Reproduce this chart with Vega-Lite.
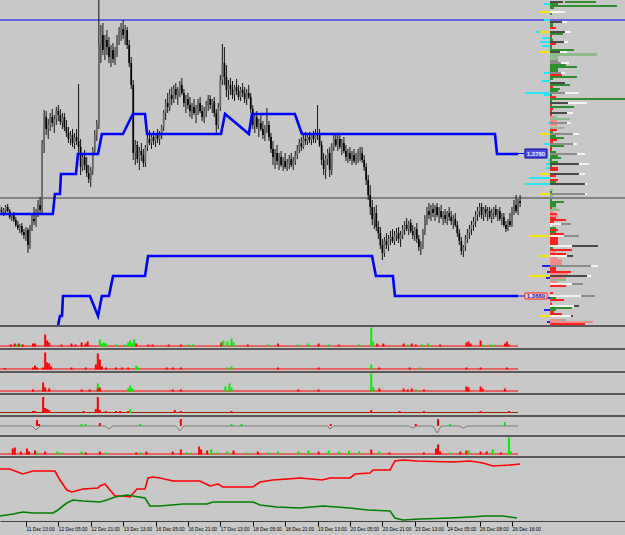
{
"$schema":"https://vega.github.io/schema/vega-lite/v6.json",
"background":"#c8c8c8","padding":0,"width":625,"height":535,"autosize":{"type":"none"},
"config":{"view":{"stroke":null}},
"datasets":{
"hl":[{"p":305,"k":"b"},{"p":127,"k":"k"}],
"candles":[
{"t":3,"o":116,"hi":120,"lo":112,"c":114},{"t":4,"o":114,"hi":118,"lo":110,"c":113},{"t":5,"o":113,"hi":117,"lo":109,"c":115},{"t":6,"o":115,"hi":120,"lo":112,"c":118},{"t":7,"o":118,"hi":121,"lo":113,"c":114},{"t":8,"o":114,"hi":116,"lo":106,"c":108},{"t":9,"o":108,"hi":112,"lo":104,"c":110},{"t":10,"o":110,"hi":113,"lo":103,"c":105},{"t":11,"o":105,"hi":108,"lo":98,"c":100},{"t":12,"o":100,"hi":104,"lo":95,"c":97},{"t":13,"o":97,"hi":101,"lo":92,"c":99},{"t":14,"o":99,"hi":102,"lo":90,"c":93},{"t":15,"o":93,"hi":96,"lo":86,"c":90},{"t":16,"o":90,"hi":98,"lo":84,"c":95},{"t":17,"o":95,"hi":97,"lo":72,"c":80},{"t":18,"o":80,"hi":100,"lo":76,"c":97},{"t":19,"o":97,"hi":110,"lo":94,"c":106},{"t":20,"o":106,"hi":118,"lo":100,"c":104},{"t":21,"o":104,"hi":116,"lo":98,"c":112},{"t":22,"o":112,"hi":125,"lo":108,"c":120},{"t":23,"o":120,"hi":128,"lo":112,"c":115},{"t":24,"o":115,"hi":185,"lo":110,"c":180},{"t":25,"o":180,"hi":215,"lo":172,"c":208},{"t":26,"o":208,"hi":214,"lo":190,"c":196},{"t":27,"o":196,"hi":206,"lo":186,"c":200},{"t":28,"o":200,"hi":212,"lo":194,"c":208},{"t":29,"o":208,"hi":216,"lo":198,"c":202},{"t":30,"o":202,"hi":210,"lo":192,"c":206},{"t":31,"o":206,"hi":218,"lo":200,"c":214},{"t":32,"o":214,"hi":220,"lo":204,"c":210},{"t":33,"o":210,"hi":216,"lo":200,"c":203},{"t":34,"o":203,"hi":212,"lo":196,"c":208},{"t":35,"o":208,"hi":212,"lo":194,"c":198},{"t":36,"o":198,"hi":205,"lo":188,"c":192},{"t":37,"o":192,"hi":198,"lo":182,"c":186},{"t":38,"o":186,"hi":194,"lo":180,"c":190},{"t":39,"o":190,"hi":196,"lo":178,"c":182},{"t":40,"o":182,"hi":192,"lo":176,"c":188},{"t":41,"o":188,"hi":196,"lo":180,"c":184},{"t":42,"o":184,"hi":241,"lo":170,"c":178},{"t":43,"o":178,"hi":186,"lo":150,"c":158},{"t":44,"o":158,"hi":172,"lo":154,"c":168},{"t":45,"o":168,"hi":175,"lo":155,"c":160},{"t":46,"o":160,"hi":168,"lo":148,"c":152},{"t":47,"o":152,"hi":160,"lo":142,"c":146},{"t":48,"o":146,"hi":158,"lo":138,"c":155},{"t":49,"o":155,"hi":178,"lo":150,"c":175},{"t":50,"o":175,"hi":195,"lo":170,"c":190},{"t":51,"o":190,"hi":205,"lo":184,"c":200},{"t":52,"o":200,"hi":325,"lo":196,"c":280},{"t":53,"o":280,"hi":300,"lo":262,"c":290},{"t":54,"o":290,"hi":302,"lo":270,"c":275},{"t":55,"o":275,"hi":290,"lo":265,"c":285},{"t":56,"o":285,"hi":295,"lo":270,"c":278},{"t":57,"o":278,"hi":288,"lo":262,"c":268},{"t":58,"o":268,"hi":280,"lo":258,"c":275},{"t":59,"o":275,"hi":282,"lo":262,"c":266},{"t":60,"o":266,"hi":278,"lo":260,"c":272},{"t":61,"o":272,"hi":290,"lo":268,"c":286},{"t":62,"o":286,"hi":298,"lo":280,"c":292},{"t":63,"o":292,"hi":302,"lo":284,"c":296},{"t":64,"o":296,"hi":305,"lo":286,"c":290},{"t":65,"o":290,"hi":300,"lo":280,"c":295},{"t":66,"o":295,"hi":298,"lo":276,"c":280},{"t":67,"o":280,"hi":285,"lo":258,"c":262},{"t":68,"o":262,"hi":268,"lo":236,"c":240},{"t":69,"o":240,"hi":245,"lo":165,"c":172},{"t":70,"o":172,"hi":185,"lo":160,"c":180},{"t":71,"o":180,"hi":184,"lo":162,"c":166},{"t":72,"o":166,"hi":178,"lo":155,"c":174},{"t":73,"o":174,"hi":182,"lo":164,"c":170},{"t":74,"o":170,"hi":176,"lo":158,"c":162},{"t":75,"o":162,"hi":180,"lo":158,"c":178},{"t":76,"o":178,"hi":190,"lo":174,"c":186},{"t":77,"o":186,"hi":195,"lo":180,"c":182},{"t":78,"o":182,"hi":190,"lo":176,"c":188},{"t":79,"o":188,"hi":194,"lo":180,"c":184},{"t":80,"o":184,"hi":192,"lo":178,"c":190},{"t":81,"o":190,"hi":196,"lo":182,"c":186},{"t":82,"o":186,"hi":194,"lo":180,"c":192},{"t":83,"o":192,"hi":200,"lo":186,"c":198},{"t":84,"o":198,"hi":215,"lo":194,"c":212},{"t":85,"o":212,"hi":226,"lo":205,"c":222},{"t":86,"o":222,"hi":232,"lo":212,"c":218},{"t":87,"o":218,"hi":236,"lo":214,"c":230},{"t":88,"o":230,"hi":238,"lo":220,"c":226},{"t":89,"o":226,"hi":240,"lo":222,"c":236},{"t":90,"o":236,"hi":242,"lo":226,"c":230},{"t":91,"o":230,"hi":238,"lo":220,"c":234},{"t":92,"o":234,"hi":244,"lo":228,"c":240},{"t":93,"o":240,"hi":247,"lo":230,"c":232},{"t":94,"o":232,"hi":236,"lo":218,"c":222},{"t":95,"o":222,"hi":230,"lo":212,"c":226},{"t":96,"o":226,"hi":232,"lo":216,"c":220},{"t":97,"o":220,"hi":228,"lo":208,"c":214},{"t":98,"o":214,"hi":222,"lo":206,"c":218},{"t":99,"o":218,"hi":226,"lo":210,"c":212},{"t":100,"o":212,"hi":220,"lo":202,"c":216},{"t":101,"o":216,"hi":226,"lo":210,"c":222},{"t":102,"o":222,"hi":228,"lo":212,"c":214},{"t":103,"o":214,"hi":220,"lo":204,"c":208},{"t":104,"o":208,"hi":218,"lo":202,"c":214},{"t":105,"o":214,"hi":224,"lo":208,"c":220},{"t":106,"o":220,"hi":230,"lo":214,"c":226},{"t":107,"o":226,"hi":230,"lo":216,"c":220},{"t":108,"o":220,"hi":226,"lo":212,"c":224},{"t":109,"o":224,"hi":228,"lo":208,"c":212},{"t":110,"o":212,"hi":216,"lo":192,"c":200},{"t":111,"o":200,"hi":222,"lo":196,"c":218},{"t":112,"o":218,"hi":250,"lo":214,"c":245},{"t":113,"o":245,"hi":281,"lo":240,"c":262},{"t":114,"o":262,"hi":278,"lo":240,"c":248},{"t":115,"o":248,"hi":260,"lo":228,"c":235},{"t":116,"o":235,"hi":245,"lo":225,"c":240},{"t":117,"o":240,"hi":247,"lo":230,"c":236},{"t":118,"o":236,"hi":244,"lo":226,"c":230},{"t":119,"o":230,"hi":240,"lo":224,"c":238},{"t":120,"o":238,"hi":246,"lo":230,"c":234},{"t":121,"o":234,"hi":240,"lo":225,"c":228},{"t":122,"o":228,"hi":238,"lo":224,"c":235},{"t":123,"o":235,"hi":242,"lo":228,"c":232},{"t":124,"o":232,"hi":238,"lo":222,"c":226},{"t":125,"o":226,"hi":236,"lo":220,"c":232},{"t":126,"o":232,"hi":240,"lo":226,"c":228},{"t":127,"o":228,"hi":232,"lo":212,"c":216},{"t":128,"o":216,"hi":220,"lo":196,"c":200},{"t":129,"o":200,"hi":212,"lo":192,"c":208},{"t":130,"o":208,"hi":214,"lo":196,"c":198},{"t":131,"o":198,"hi":206,"lo":188,"c":202},{"t":132,"o":202,"hi":210,"lo":194,"c":196},{"t":133,"o":196,"hi":204,"lo":186,"c":190},{"t":134,"o":190,"hi":200,"lo":184,"c":196},{"t":135,"o":196,"hi":217,"lo":192,"c":200},{"t":136,"o":200,"hi":204,"lo":184,"c":188},{"t":137,"o":188,"hi":192,"lo":172,"c":176},{"t":138,"o":176,"hi":184,"lo":160,"c":168},{"t":139,"o":168,"hi":176,"lo":156,"c":172},{"t":140,"o":172,"hi":180,"lo":160,"c":164},{"t":141,"o":164,"hi":172,"lo":155,"c":168},{"t":142,"o":168,"hi":174,"lo":158,"c":160},{"t":143,"o":160,"hi":168,"lo":154,"c":164},{"t":144,"o":164,"hi":172,"lo":156,"c":158},{"t":145,"o":158,"hi":166,"lo":154,"c":162},{"t":146,"o":162,"hi":170,"lo":156,"c":166},{"t":147,"o":166,"hi":172,"lo":158,"c":160},{"t":148,"o":160,"hi":168,"lo":155,"c":164},{"t":149,"o":164,"hi":174,"lo":160,"c":170},{"t":150,"o":170,"hi":180,"lo":166,"c":176},{"t":151,"o":176,"hi":186,"lo":172,"c":182},{"t":152,"o":182,"hi":188,"lo":174,"c":178},{"t":153,"o":178,"hi":190,"lo":176,"c":186},{"t":154,"o":186,"hi":193,"lo":180,"c":184},{"t":155,"o":184,"hi":192,"lo":180,"c":188},{"t":156,"o":188,"hi":193,"lo":182,"c":185},{"t":157,"o":185,"hi":192,"lo":180,"c":190},{"t":158,"o":190,"hi":194,"lo":182,"c":186},{"t":159,"o":186,"hi":196,"lo":182,"c":192},{"t":160,"o":192,"hi":220,"lo":185,"c":190},{"t":161,"o":190,"hi":196,"lo":178,"c":180},{"t":162,"o":180,"hi":184,"lo":160,"c":165},{"t":163,"o":165,"hi":172,"lo":150,"c":156},{"t":164,"o":156,"hi":170,"lo":146,"c":166},{"t":165,"o":166,"hi":176,"lo":160,"c":172},{"t":166,"o":172,"hi":178,"lo":148,"c":155},{"t":167,"o":155,"hi":182,"lo":150,"c":178},{"t":168,"o":178,"hi":192,"lo":174,"c":186},{"t":169,"o":186,"hi":192,"lo":178,"c":180},{"t":170,"o":180,"hi":190,"lo":174,"c":186},{"t":171,"o":186,"hi":192,"lo":176,"c":178},{"t":172,"o":178,"hi":186,"lo":170,"c":182},{"t":173,"o":182,"hi":188,"lo":172,"c":174},{"t":174,"o":174,"hi":180,"lo":164,"c":168},{"t":175,"o":168,"hi":176,"lo":162,"c":172},{"t":176,"o":172,"hi":178,"lo":164,"c":166},{"t":177,"o":166,"hi":174,"lo":160,"c":170},{"t":178,"o":170,"hi":176,"lo":162,"c":164},{"t":179,"o":164,"hi":172,"lo":160,"c":168},{"t":180,"o":168,"hi":176,"lo":162,"c":170},{"t":181,"o":170,"hi":178,"lo":164,"c":172},{"t":182,"o":172,"hi":178,"lo":162,"c":165},{"t":183,"o":165,"hi":170,"lo":154,"c":158},{"t":184,"o":158,"hi":162,"lo":140,"c":145},{"t":185,"o":145,"hi":150,"lo":125,"c":130},{"t":186,"o":130,"hi":140,"lo":110,"c":118},{"t":187,"o":118,"hi":125,"lo":100,"c":106},{"t":188,"o":106,"hi":118,"lo":96,"c":112},{"t":189,"o":112,"hi":120,"lo":94,"c":98},{"t":190,"o":98,"hi":104,"lo":86,"c":92},{"t":191,"o":92,"hi":98,"lo":76,"c":80},{"t":192,"o":80,"hi":86,"lo":65,"c":72},{"t":193,"o":72,"hi":88,"lo":68,"c":84},{"t":194,"o":84,"hi":92,"lo":76,"c":80},{"t":195,"o":80,"hi":90,"lo":74,"c":86},{"t":196,"o":86,"hi":94,"lo":80,"c":88},{"t":197,"o":88,"hi":96,"lo":82,"c":84},{"t":198,"o":84,"hi":94,"lo":80,"c":90},{"t":199,"o":90,"hi":97,"lo":84,"c":92},{"t":200,"o":92,"hi":98,"lo":82,"c":86},{"t":201,"o":86,"hi":94,"lo":78,"c":90},{"t":202,"o":90,"hi":100,"lo":86,"c":96},{"t":203,"o":96,"hi":104,"lo":90,"c":100},{"t":204,"o":100,"hi":107,"lo":94,"c":96},{"t":205,"o":96,"hi":104,"lo":90,"c":102},{"t":206,"o":102,"hi":106,"lo":92,"c":94},{"t":207,"o":94,"hi":100,"lo":86,"c":90},{"t":208,"o":90,"hi":98,"lo":84,"c":96},{"t":209,"o":96,"hi":102,"lo":82,"c":86},{"t":210,"o":86,"hi":90,"lo":74,"c":78},{"t":211,"o":78,"hi":84,"lo":70,"c":80},{"t":212,"o":80,"hi":96,"lo":76,"c":94},{"t":213,"o":94,"hi":110,"lo":90,"c":106},{"t":214,"o":106,"hi":118,"lo":100,"c":114},{"t":215,"o":114,"hi":122,"lo":106,"c":110},{"t":216,"o":110,"hi":120,"lo":104,"c":116},{"t":217,"o":116,"hi":122,"lo":108,"c":112},{"t":218,"o":112,"hi":120,"lo":104,"c":118},{"t":219,"o":118,"hi":122,"lo":108,"c":110},{"t":220,"o":110,"hi":118,"lo":102,"c":114},{"t":221,"o":114,"hi":120,"lo":106,"c":108},{"t":222,"o":108,"hi":114,"lo":100,"c":110},{"t":223,"o":110,"hi":116,"lo":102,"c":106},{"t":224,"o":106,"hi":114,"lo":100,"c":112},{"t":225,"o":112,"hi":118,"lo":104,"c":108},{"t":226,"o":108,"hi":114,"lo":100,"c":104},{"t":227,"o":104,"hi":110,"lo":96,"c":106},{"t":228,"o":106,"hi":112,"lo":98,"c":100},{"t":229,"o":100,"hi":104,"lo":88,"c":92},{"t":230,"o":92,"hi":96,"lo":80,"c":84},{"t":231,"o":84,"hi":88,"lo":70,"c":74},{"t":232,"o":74,"hi":80,"lo":68,"c":78},{"t":233,"o":78,"hi":90,"lo":74,"c":86},{"t":234,"o":86,"hi":96,"lo":82,"c":92},{"t":235,"o":92,"hi":100,"lo":86,"c":96},{"t":236,"o":96,"hi":104,"lo":90,"c":100},{"t":237,"o":100,"hi":108,"lo":94,"c":104},{"t":238,"o":104,"hi":114,"lo":98,"c":110},{"t":239,"o":110,"hi":118,"lo":104,"c":114},{"t":240,"o":114,"hi":122,"lo":108,"c":118},{"t":241,"o":118,"hi":122,"lo":106,"c":110},{"t":242,"o":110,"hi":118,"lo":104,"c":116},{"t":243,"o":116,"hi":120,"lo":108,"c":112},{"t":244,"o":112,"hi":118,"lo":104,"c":114},{"t":245,"o":114,"hi":118,"lo":106,"c":108},{"t":246,"o":108,"hi":116,"lo":102,"c":112},{"t":247,"o":112,"hi":118,"lo":106,"c":116},{"t":248,"o":116,"hi":120,"lo":108,"c":110},{"t":249,"o":110,"hi":116,"lo":104,"c":114},{"t":250,"o":114,"hi":118,"lo":104,"c":106},{"t":251,"o":106,"hi":112,"lo":100,"c":108},{"t":252,"o":108,"hi":112,"lo":98,"c":100},{"t":253,"o":100,"hi":104,"lo":93,"c":96},{"t":254,"o":96,"hi":106,"lo":94,"c":104},{"t":255,"o":104,"hi":112,"lo":98,"c":100},{"t":256,"o":100,"hi":118,"lo":98,"c":116},{"t":257,"o":116,"hi":125,"lo":110,"c":120},{"t":258,"o":120,"hi":130,"lo":112,"c":114},{"t":259,"o":114,"hi":126,"lo":110,"c":124},{"t":260,"o":124,"hi":130,"lo":118,"c":122}
],
"blue":[
{"s":"u","i":0,"t":3,"p":111},{"s":"u","i":1,"t":29.3,"p":111},{"s":"u","i":2,"t":30.3,"p":131},{"s":"u","i":3,"t":32.8,"p":131},{"s":"u","i":4,"t":33.3,"p":151},{"s":"u","i":5,"t":40.7,"p":151},{"s":"u","i":6,"t":41.7,"p":171},{"s":"u","i":7,"t":51.6,"p":171},{"s":"u","i":8,"t":53.5,"p":191},{"s":"u","i":9,"t":63.9,"p":191},{"s":"u","i":10,"t":68.8,"p":211},{"s":"u","i":11,"t":74.8,"p":211},{"s":"u","i":12,"t":75.8,"p":191},{"s":"u","i":13,"t":112.3,"p":191},{"s":"u","i":14,"t":114.3,"p":211},{"s":"u","i":15,"t":126.1,"p":191},{"s":"u","i":16,"t":127.6,"p":211},{"s":"u","i":17,"t":148.8,"p":211},{"s":"u","i":18,"t":152.3,"p":191},{"s":"u","i":19,"t":247.6,"p":191},{"s":"u","i":20,"t":248.6,"p":171},{"s":"u","i":21,"t":259,"p":171},
{"s":"l","i":0,"t":31.8,"p":-1},{"s":"l","i":1,"t":32.8,"p":9},{"s":"l","i":2,"t":33.8,"p":9},{"s":"l","i":3,"t":34.3,"p":29},{"s":"l","i":4,"t":47.6,"p":29},{"s":"l","i":5,"t":51.6,"p":9},{"s":"l","i":6,"t":53.5,"p":29},{"s":"l","i":7,"t":57,"p":29},{"s":"l","i":8,"t":59,"p":49},{"s":"l","i":9,"t":74.8,"p":49},{"s":"l","i":10,"t":76.3,"p":69},{"s":"l","i":11,"t":186.9,"p":69},{"s":"l","i":12,"t":188.8,"p":49},{"s":"l","i":13,"t":197.2,"p":49},{"s":"l","i":14,"t":198.2,"p":29},{"s":"l","i":15,"t":259,"p":29}
],
"boxes":[
{"k":"u","lx":259,"x0":262.4,"x1":273.3,"xm":267.85,"p0":167,"p1":176,"pm":171.5,"lab":"1.3780"},
{"k":"l","lx":259,"x0":262.4,"x1":273.3,"xm":267.85,"p0":26,"p1":32,"pm":29,"lab":"1.3660"}
],
"prof":[
{"y":323,"a":0,"b":13,"k":"d"},{"y":323,"a":15,"b":46,"k":"g"},{"y":321,"a":-6,"b":0,"k":"c"},{"y":321,"a":0,"b":8,"k":"g"},{"y":319,"a":0,"b":67,"k":"g"},{"y":317,"a":0,"b":4,"k":"g"},{"y":313,"a":-10,"b":0,"k":"y"},{"y":313,"a":0,"b":15,"k":"w"},{"y":311,"a":0,"b":2,"k":"g"},{"y":305,"a":-6,"b":0,"k":"c"},{"y":303,"a":0,"b":12,"k":"d"},{"y":303,"a":12,"b":17,"k":"w"},{"y":301,"a":0,"b":3,"k":"g"},{"y":299,"a":0,"b":3,"k":"g"},{"y":297,"a":0,"b":6,"k":"r"},{"y":293,"a":-14,"b":-10,"k":"c"},{"y":293,"a":-10,"b":0,"k":"y"},{"y":293,"a":0,"b":15,"k":"d"},{"y":293,"a":15,"b":21,"k":"w"},{"y":291,"a":0,"b":13,"k":"g"},{"y":289,"a":0,"b":2,"k":"r"},{"y":287,"a":-8,"b":0,"k":"c"},{"y":287,"a":0,"b":2,"k":"g"},{"y":285,"a":0,"b":3,"k":"g"},{"y":283,"a":-10,"b":0,"k":"c"},{"y":283,"a":0,"b":14,"k":"d"},{"y":283,"a":14,"b":18,"k":"w"},{"y":281,"a":0,"b":6,"k":"r"},{"y":279,"a":-8,"b":0,"k":"c"},{"y":279,"a":0,"b":2,"k":"g"},{"y":277,"a":0,"b":2,"k":"g"},{"y":275,"a":0,"b":24,"k":"g"},{"y":273,"a":-10,"b":0,"k":"y"},{"y":273,"a":0,"b":10,"k":"d"},{"y":273,"a":10,"b":17,"k":"w"},{"y":271,"a":0,"b":47,"k":"lg"},{"y":270,"a":0,"b":47,"k":"lg"},{"y":268,"a":0,"b":8,"k":"lg"},{"y":266,"a":0,"b":8,"k":"lg"},{"y":264,"a":0,"b":8,"k":"m"},{"y":262,"a":0,"b":11,"k":"m"},{"y":262,"a":11,"b":19,"k":"w"},{"y":260,"a":0,"b":16,"k":"g"},{"y":258,"a":0,"b":27,"k":"g"},{"y":256,"a":0,"b":8,"k":"g"},{"y":254,"a":0,"b":8,"k":"g"},{"y":252,"a":-6,"b":0,"k":"c"},{"y":252,"a":0,"b":11,"k":"m"},{"y":252,"a":11,"b":15,"k":"w"},{"y":250,"a":0,"b":12,"k":"r"},{"y":248,"a":0,"b":27,"k":"g"},{"y":246,"a":0,"b":3,"k":"g"},{"y":244,"a":-8,"b":0,"k":"c"},{"y":242,"a":0,"b":15,"k":"d"},{"y":240,"a":0,"b":20,"k":"g"},{"y":238,"a":0,"b":3,"k":"r"},{"y":236,"a":0,"b":10,"k":"g"},{"y":234,"a":0,"b":8,"k":"g"},{"y":232,"a":-25,"b":0,"k":"c"},{"y":232,"a":0,"b":15,"k":"m"},{"y":232,"a":15,"b":29,"k":"w"},{"y":230,"a":-6,"b":0,"k":"c"},{"y":230,"a":0,"b":2,"k":"g"},{"y":228,"a":0,"b":6,"k":"r"},{"y":226,"a":0,"b":75,"k":"g"},{"y":224,"a":0,"b":2,"k":"g"},{"y":222,"a":0,"b":18,"k":"d"},{"y":222,"a":18,"b":37,"k":"w"},{"y":220,"a":0,"b":2,"k":"r"},{"y":218,"a":0,"b":24,"k":"g"},{"y":216,"a":0,"b":3,"k":"r"},{"y":214,"a":0,"b":2,"k":"r"},{"y":212,"a":0,"b":17,"k":"d"},{"y":212,"a":17,"b":23,"k":"w"},{"y":210,"a":0,"b":2,"k":"r"},{"y":208,"a":0,"b":3,"k":"lr"},{"y":208,"a":3,"b":7,"k":"lg"},{"y":206,"a":0,"b":20,"k":"lg"},{"y":204,"a":0,"b":7,"k":"lr"},{"y":202,"a":-2,"b":0,"k":"c"},{"y":202,"a":0,"b":17,"k":"m"},{"y":202,"a":17,"b":21,"k":"w"},{"y":200,"a":0,"b":7,"k":"lr"},{"y":197,"a":0,"b":14,"k":"lg"},{"y":195,"a":0,"b":7,"k":"r"},{"y":193,"a":0,"b":3,"k":"g"},{"y":191,"a":-10,"b":0,"k":"y"},{"y":191,"a":0,"b":23,"k":"m"},{"y":191,"a":23,"b":29,"k":"w"},{"y":189,"a":0,"b":6,"k":"g"},{"y":187,"a":0,"b":14,"k":"g"},{"y":185,"a":0,"b":7,"k":"r"},{"y":183,"a":0,"b":3,"k":"r"},{"y":181,"a":-6,"b":0,"k":"c"},{"y":181,"a":0,"b":23,"k":"m"},{"y":181,"a":23,"b":27,"k":"w"},{"y":179,"a":0,"b":14,"k":"g"},{"y":177,"a":0,"b":2,"k":"r"},{"y":175,"a":0,"b":2,"k":"r"},{"y":173,"a":0,"b":6,"k":"g"},{"y":171,"a":0,"b":27,"k":"m"},{"y":171,"a":27,"b":35,"k":"w"},{"y":169,"a":0,"b":8,"k":"g"},{"y":167,"a":0,"b":11,"k":"g"},{"y":165,"a":-2,"b":0,"k":"c"},{"y":165,"a":0,"b":2,"k":"g"},{"y":163,"a":0,"b":8,"k":"g"},{"y":161,"a":-4,"b":0,"k":"c"},{"y":161,"a":0,"b":29,"k":"d"},{"y":161,"a":29,"b":39,"k":"w"},{"y":159,"a":0,"b":2,"k":"g"},{"y":157,"a":-4,"b":0,"k":"c"},{"y":157,"a":0,"b":8,"k":"r"},{"y":155,"a":0,"b":8,"k":"r"},{"y":151,"a":-10,"b":0,"k":"y"},{"y":151,"a":0,"b":29,"k":"d"},{"y":151,"a":29,"b":35,"k":"w"},{"y":149,"a":0,"b":6,"k":"r"},{"y":147,"a":-21,"b":0,"k":"c"},{"y":145,"a":0,"b":8,"k":"r"},{"y":143,"a":0,"b":6,"k":"g"},{"y":141,"a":-25,"b":0,"k":"c"},{"y":141,"a":0,"b":35,"k":"d"},{"y":141,"a":35,"b":37,"k":"w"},{"y":135,"a":0,"b":3,"k":"lg"},{"y":133,"a":0,"b":2,"k":"g"},{"y":131,"a":-10,"b":0,"k":"y"},{"y":131,"a":0,"b":35,"k":"m"},{"y":131,"a":35,"b":37,"k":"w"},{"y":129,"a":0,"b":3,"k":"lg"},{"y":125,"a":0,"b":2,"k":"g"},{"y":123,"a":0,"b":14,"k":"g"},{"y":121,"a":0,"b":6,"k":"g"},{"y":119,"a":0,"b":6,"k":"g"},{"y":117,"a":0,"b":2,"k":"r"},{"y":117,"a":2,"b":7,"k":"lg"},{"y":115,"a":0,"b":10,"k":"lg"},{"y":113,"a":0,"b":3,"k":"lr"},{"y":111,"a":0,"b":7,"k":"r"},{"y":109,"a":0,"b":8,"k":"lr"},{"y":107,"a":0,"b":6,"k":"r"},{"y":105,"a":0,"b":16,"k":"r"},{"y":103,"a":0,"b":4,"k":"r"},{"y":101,"a":0,"b":11,"k":"w"},{"y":101,"a":11,"b":21,"k":"m"},{"y":99,"a":0,"b":2,"k":"w"},{"y":97,"a":0,"b":6,"k":"g"},{"y":95,"a":0,"b":8,"k":"r"},{"y":93,"a":0,"b":6,"k":"g"},{"y":91,"a":0,"b":14,"k":"r"},{"y":89,"a":-21,"b":0,"k":"y"},{"y":89,"a":0,"b":14,"k":"w"},{"y":89,"a":14,"b":29,"k":"m"},{"y":87,"a":0,"b":8,"k":"r"},{"y":85,"a":0,"b":8,"k":"r"},{"y":83,"a":0,"b":8,"k":"r"},{"y":81,"a":0,"b":8,"k":"r"},{"y":79,"a":0,"b":22,"k":"w"},{"y":79,"a":22,"b":48,"k":"d"},{"y":77,"a":0,"b":3,"k":"g"},{"y":75,"a":0,"b":22,"k":"r"},{"y":73,"a":0,"b":6,"k":"lr"},{"y":71,"a":0,"b":16,"k":"r"},{"y":69,"a":-10,"b":0,"k":"y"},{"y":69,"a":0,"b":17,"k":"w"},{"y":69,"a":17,"b":23,"k":"d"},{"y":67,"a":0,"b":8,"k":"lr"},{"y":65,"a":0,"b":12,"k":"lr"},{"y":63,"a":0,"b":12,"k":"lr"},{"y":61,"a":0,"b":12,"k":"lr"},{"y":59,"a":-8,"b":0,"k":"b"},{"y":59,"a":0,"b":41,"k":"m"},{"y":59,"a":41,"b":48,"k":"w"},{"y":57,"a":0,"b":6,"k":"r"},{"y":55,"a":0,"b":6,"k":"r"},{"y":53,"a":-3,"b":0,"k":"b"},{"y":53,"a":0,"b":21,"k":"r"},{"y":51,"a":0,"b":18,"k":"lr"},{"y":49,"a":-21,"b":0,"k":"y"},{"y":49,"a":0,"b":37,"k":"d"},{"y":49,"a":37,"b":41,"k":"w"},{"y":47,"a":-4,"b":0,"k":"b"},{"y":47,"a":0,"b":16,"k":"lr"},{"y":45,"a":0,"b":16,"k":"lg"},{"y":43,"a":0,"b":8,"k":"lr"},{"y":41,"a":0,"b":22,"k":"w"},{"y":41,"a":22,"b":33,"k":"m"},{"y":39,"a":0,"b":16,"k":"r"},{"y":32,"a":0,"b":3,"k":"r"},{"y":29,"a":0,"b":31,"k":"w"},{"y":29,"a":31,"b":45,"k":"m"},{"y":27,"a":-2,"b":0,"k":"b"},{"y":27,"a":0,"b":6,"k":"g"},{"y":25,"a":0,"b":14,"k":"r"},{"y":23,"a":0,"b":2,"k":"lr"},{"y":21,"a":0,"b":2,"k":"r"},{"y":19,"a":0,"b":24,"k":"w"},{"y":19,"a":24,"b":29,"k":"d"},{"y":17,"a":0,"b":22,"k":"g"},{"y":15,"a":-6,"b":0,"k":"b"},{"y":15,"a":0,"b":6,"k":"g"},{"y":13,"a":0,"b":4,"k":"r"},{"y":11,"a":0,"b":12,"k":"r"},{"y":9,"a":-10,"b":0,"k":"y"},{"y":9,"a":0,"b":21,"k":"w"},{"y":9,"a":21,"b":23,"k":"d"},{"y":5,"a":0,"b":12,"k":"lr"},{"y":5,"a":12,"b":16,"k":"lg"},{"y":3,"a":-3,"b":0,"k":"b"},{"y":3,"a":0,"b":43,"k":"lr"},{"y":1,"a":0,"b":35,"k":"r"}
],
"sub":[
{"p":1,"t":3,"t2":259,"v":1,"k":"r"},{"p":1,"t":8,"t2":9,"v":2,"k":"r"},{"p":1,"t":10,"t2":11,"v":3,"k":"r"},{"p":1,"t":11,"t2":12,"v":2,"k":"g"},{"p":1,"t":12,"t2":13,"v":3,"k":"r"},{"p":1,"t":13,"t2":14,"v":2,"k":"g"},{"p":1,"t":14,"t2":15,"v":2,"k":"r"},{"p":1,"t":19,"t2":20,"v":3,"k":"r"},{"p":1,"t":20,"t2":21,"v":3,"k":"r"},{"p":1,"t":25,"t2":26,"v":12,"k":"r"},{"p":1,"t":26,"t2":27,"v":6,"k":"r"},{"p":1,"t":27,"t2":28,"v":4,"k":"r"},{"p":1,"t":33,"t2":34,"v":2,"k":"r"},{"p":1,"t":38,"t2":39,"v":3,"k":"r"},{"p":1,"t":40,"t2":41,"v":2,"k":"r"},{"p":1,"t":43,"t2":44,"v":4,"k":"r"},{"p":1,"t":45,"t2":46,"v":3,"k":"r"},{"p":1,"t":46,"t2":47,"v":5,"k":"r"},{"p":1,"t":52,"t2":53,"v":7,"k":"g"},{"p":1,"t":53,"t2":54,"v":3,"k":"g"},{"p":1,"t":54,"t2":55,"v":4,"k":"g"},{"p":1,"t":55,"t2":56,"v":3,"k":"g"},{"p":1,"t":60,"t2":61,"v":2,"k":"g"},{"p":1,"t":64,"t2":65,"v":2,"k":"g"},{"p":1,"t":66,"t2":67,"v":4,"k":"g"},{"p":1,"t":67,"t2":68,"v":6,"k":"g"},{"p":1,"t":68,"t2":69,"v":3,"k":"g"},{"p":1,"t":69,"t2":70,"v":7,"k":"g"},{"p":1,"t":70,"t2":71,"v":3,"k":"r"},{"p":1,"t":76,"t2":77,"v":2,"k":"r"},{"p":1,"t":78,"t2":79,"v":2,"k":"r"},{"p":1,"t":86,"t2":87,"v":2,"k":"r"},{"p":1,"t":92,"t2":93,"v":2,"k":"r"},{"p":1,"t":96,"t2":97,"v":2,"k":"g"},{"p":1,"t":98,"t2":99,"v":2,"k":"g"},{"p":1,"t":112,"t2":113,"v":4,"k":"r"},{"p":1,"t":113,"t2":114,"v":6,"k":"g"},{"p":1,"t":115,"t2":116,"v":5,"k":"g"},{"p":1,"t":117,"t2":118,"v":8,"k":"g"},{"p":1,"t":118,"t2":119,"v":4,"k":"g"},{"p":1,"t":125,"t2":126,"v":2,"k":"r"},{"p":1,"t":135,"t2":136,"v":2,"k":"g"},{"p":1,"t":140,"t2":141,"v":3,"k":"r"},{"p":1,"t":150,"t2":151,"v":2,"k":"g"},{"p":1,"t":155,"t2":156,"v":3,"k":"g"},{"p":1,"t":160,"t2":161,"v":3,"k":"r"},{"p":1,"t":165,"t2":166,"v":2,"k":"g"},{"p":1,"t":170,"t2":171,"v":2,"k":"r"},{"p":1,"t":180,"t2":181,"v":2,"k":"g"},{"p":1,"t":186,"t2":187,"v":19,"k":"g"},{"p":1,"t":187,"t2":188,"v":5,"k":"g"},{"p":1,"t":189,"t2":190,"v":3,"k":"r"},{"p":1,"t":192,"t2":193,"v":3,"k":"r"},{"p":1,"t":202,"t2":203,"v":3,"k":"r"},{"p":1,"t":204,"t2":205,"v":2,"k":"g"},{"p":1,"t":206,"t2":207,"v":3,"k":"r"},{"p":1,"t":208,"t2":209,"v":2,"k":"r"},{"p":1,"t":211,"t2":212,"v":2,"k":"g"},{"p":1,"t":214,"t2":215,"v":3,"k":"g"},{"p":1,"t":220,"t2":221,"v":2,"k":"r"},{"p":1,"t":233,"t2":234,"v":4,"k":"r"},{"p":1,"t":234,"t2":235,"v":5,"k":"r"},{"p":1,"t":235,"t2":236,"v":3,"k":"r"},{"p":1,"t":240,"t2":241,"v":6,"k":"r"},{"p":1,"t":241,"t2":242,"v":2,"k":"g"},{"p":1,"t":245,"t2":246,"v":2,"k":"g"},{"p":1,"t":247,"t2":248,"v":2,"k":"g"},{"p":1,"t":252,"t2":253,"v":3,"k":"r"},{"p":1,"t":253,"t2":254,"v":5,"k":"r"},{"p":1,"t":254,"t2":255,"v":2,"k":"r"},
{"p":2,"t":3,"t2":259,"v":1,"k":"r"},{"p":2,"t":5,"t2":6,"v":1.5,"k":"r"},{"p":2,"t":19,"t2":20,"v":2,"k":"r"},{"p":2,"t":20,"t2":21,"v":4,"k":"r"},{"p":2,"t":21,"t2":22,"v":2,"k":"r"},{"p":2,"t":24,"t2":25,"v":2,"k":"r"},{"p":2,"t":25,"t2":26,"v":17,"k":"r"},{"p":2,"t":26,"t2":27,"v":7,"k":"r"},{"p":2,"t":27,"t2":28,"v":6,"k":"r"},{"p":2,"t":28,"t2":29,"v":3,"k":"r"},{"p":2,"t":38,"t2":39,"v":2,"k":"r"},{"p":2,"t":45,"t2":46,"v":2,"k":"r"},{"p":2,"t":50,"t2":51,"v":5,"k":"r"},{"p":2,"t":51,"t2":52,"v":16,"k":"r"},{"p":2,"t":52,"t2":53,"v":10,"k":"r"},{"p":2,"t":53,"t2":54,"v":3,"k":"r"},{"p":2,"t":55,"t2":56,"v":2,"k":"r"},{"p":2,"t":60,"t2":61,"v":2,"k":"r"},{"p":2,"t":63,"t2":64,"v":2,"k":"r"},{"p":2,"t":66,"t2":67,"v":2,"k":"r"},{"p":2,"t":70,"t2":71,"v":4,"k":"g"},{"p":2,"t":71,"t2":72,"v":2,"k":"g"},{"p":2,"t":85,"t2":86,"v":2,"k":"r"},{"p":2,"t":88,"t2":89,"v":2,"k":"r"},{"p":2,"t":92,"t2":93,"v":2,"k":"r"},{"p":2,"t":115,"t2":116,"v":2,"k":"g"},{"p":2,"t":117,"t2":118,"v":3,"k":"g"},{"p":2,"t":140,"t2":141,"v":2,"k":"r"},{"p":2,"t":160,"t2":161,"v":2,"k":"r"},{"p":2,"t":186,"t2":187,"v":5,"k":"g"},{"p":2,"t":190,"t2":191,"v":2,"k":"r"},{"p":2,"t":205,"t2":206,"v":2,"k":"r"},{"p":2,"t":210,"t2":211,"v":2,"k":"g"},{"p":2,"t":233,"t2":234,"v":2,"k":"r"},{"p":2,"t":240,"t2":241,"v":2,"k":"r"},{"p":2,"t":253,"t2":254,"v":2,"k":"r"},
{"p":3,"t":3,"t2":259,"v":1,"k":"r"},{"p":3,"t":19,"t2":20,"v":2,"k":"r"},{"p":3,"t":24,"t2":25,"v":9,"k":"r"},{"p":3,"t":25,"t2":26,"v":4,"k":"r"},{"p":3,"t":27,"t2":28,"v":3,"k":"r"},{"p":3,"t":43,"t2":44,"v":2,"k":"r"},{"p":3,"t":47,"t2":48,"v":2,"k":"r"},{"p":3,"t":51,"t2":52,"v":8,"k":"g"},{"p":3,"t":51,"t2":52,"v":3,"k":"r"},{"p":3,"t":52,"t2":53,"v":4,"k":"r"},{"p":3,"t":66,"t2":67,"v":3,"k":"g"},{"p":3,"t":67,"t2":68,"v":6,"k":"g"},{"p":3,"t":68,"t2":69,"v":3,"k":"g"},{"p":3,"t":88,"t2":89,"v":2,"k":"r"},{"p":3,"t":92,"t2":93,"v":2,"k":"r"},{"p":3,"t":114,"t2":115,"v":5,"k":"g"},{"p":3,"t":116,"t2":117,"v":8,"k":"g"},{"p":3,"t":117,"t2":118,"v":4,"k":"g"},{"p":3,"t":150,"t2":151,"v":2,"k":"r"},{"p":3,"t":160,"t2":161,"v":2,"k":"r"},{"p":3,"t":186,"t2":187,"v":18,"k":"g"},{"p":3,"t":187,"t2":188,"v":4,"k":"g"},{"p":3,"t":190,"t2":191,"v":3,"k":"r"},{"p":3,"t":202,"t2":203,"v":3,"k":"r"},{"p":3,"t":204,"t2":205,"v":2,"k":"r"},{"p":3,"t":206,"t2":207,"v":3,"k":"r"},{"p":3,"t":208,"t2":209,"v":2,"k":"g"},{"p":3,"t":212,"t2":213,"v":2,"k":"r"},{"p":3,"t":233,"t2":234,"v":5,"k":"r"},{"p":3,"t":234,"t2":235,"v":4,"k":"r"},{"p":3,"t":240,"t2":241,"v":5,"k":"r"},{"p":3,"t":241,"t2":242,"v":3,"k":"r"},{"p":3,"t":252,"t2":253,"v":3,"k":"r"},
{"p":4,"t":3,"t2":259,"v":1,"k":"dr"},{"p":4,"t":19,"t2":20,"v":2,"k":"r"},{"p":4,"t":20,"t2":21,"v":2,"k":"r"},{"p":4,"t":24,"t2":25,"v":16,"k":"r"},{"p":4,"t":25,"t2":26,"v":5,"k":"r"},{"p":4,"t":26,"t2":27,"v":4,"k":"r"},{"p":4,"t":27,"t2":28,"v":3,"k":"r"},{"p":4,"t":44,"t2":45,"v":2,"k":"r"},{"p":4,"t":50,"t2":51,"v":4,"k":"r"},{"p":4,"t":51,"t2":52,"v":16,"k":"r"},{"p":4,"t":52,"t2":53,"v":3,"k":"r"},{"p":4,"t":55,"t2":56,"v":2,"k":"r"},{"p":4,"t":60,"t2":61,"v":2,"k":"r"},{"p":4,"t":62,"t2":63,"v":2,"k":"r"},{"p":4,"t":66,"t2":67,"v":2,"k":"r"},{"p":4,"t":67,"t2":68,"v":4,"k":"g"},{"p":4,"t":89,"t2":90,"v":3,"k":"r"},{"p":4,"t":92,"t2":93,"v":2,"k":"r"},{"p":4,"t":117,"t2":118,"v":2,"k":"r"},{"p":4,"t":186,"t2":187,"v":3,"k":"r"},{"p":4,"t":200,"t2":201,"v":2,"k":"r"},{"p":4,"t":212,"t2":213,"v":2,"k":"r"},{"p":4,"t":240,"t2":241,"v":2,"k":"r"},{"p":4,"t":254,"t2":255,"v":2,"k":"r"},
{"p":5,"t":21,"t2":22,"v":6,"k":"r"},{"p":5,"t":22,"t2":23,"v":2,"k":"r"},{"p":5,"t":43,"t2":44,"v":2,"k":"g"},{"p":5,"t":45,"t2":46,"v":2,"k":"g"},{"p":5,"t":52,"t2":53,"v":3,"k":"r"},{"p":5,"t":72,"t2":73,"v":2,"k":"g"},{"p":5,"t":92,"t2":93,"v":7,"k":"r"},{"p":5,"t":117,"t2":118,"v":2,"k":"g"},{"p":5,"t":122,"t2":123,"v":2,"k":"g"},{"p":5,"t":166,"t2":167,"v":2,"k":"r"},{"p":5,"t":208,"t2":209,"v":2,"k":"r"},{"p":5,"t":219,"t2":220,"v":7,"k":"r"},{"p":5,"t":225,"t2":226,"v":2,"k":"g"},{"p":5,"t":252,"t2":253,"v":4,"k":"g"},
{"p":6,"t":3,"t2":259,"v":1,"k":"r"},{"p":6,"t":9,"t2":10,"v":6,"k":"r"},{"p":6,"t":10,"t2":11,"v":7,"k":"r"},{"p":6,"t":13,"t2":14,"v":3,"k":"r"},{"p":6,"t":16,"t2":17,"v":6,"k":"r"},{"p":6,"t":17,"t2":18,"v":3,"k":"r"},{"p":6,"t":20,"t2":21,"v":4,"k":"r"},{"p":6,"t":21,"t2":22,"v":2,"k":"g"},{"p":6,"t":25,"t2":26,"v":3,"k":"r"},{"p":6,"t":31,"t2":32,"v":3,"k":"g"},{"p":6,"t":33,"t2":34,"v":2,"k":"g"},{"p":6,"t":43,"t2":44,"v":3,"k":"g"},{"p":6,"t":45,"t2":46,"v":2,"k":"r"},{"p":6,"t":52,"t2":53,"v":3,"k":"r"},{"p":6,"t":55,"t2":56,"v":2,"k":"g"},{"p":6,"t":70,"t2":71,"v":2,"k":"r"},{"p":6,"t":72,"t2":73,"v":2,"k":"g"},{"p":6,"t":75,"t2":76,"v":3,"k":"r"},{"p":6,"t":88,"t2":89,"v":3,"k":"r"},{"p":6,"t":92,"t2":93,"v":5,"k":"r"},{"p":6,"t":95,"t2":96,"v":2,"k":"g"},{"p":6,"t":97,"t2":98,"v":2,"k":"g"},{"p":6,"t":101,"t2":102,"v":8,"k":"r"},{"p":6,"t":102,"t2":103,"v":5,"k":"r"},{"p":6,"t":105,"t2":106,"v":4,"k":"r"},{"p":6,"t":107,"t2":108,"v":5,"k":"g"},{"p":6,"t":110,"t2":111,"v":2,"k":"g"},{"p":6,"t":115,"t2":116,"v":3,"k":"g"},{"p":6,"t":118,"t2":119,"v":4,"k":"r"},{"p":6,"t":125,"t2":126,"v":2,"k":"g"},{"p":6,"t":130,"t2":131,"v":3,"k":"r"},{"p":6,"t":135,"t2":136,"v":2,"k":"g"},{"p":6,"t":140,"t2":141,"v":3,"k":"g"},{"p":6,"t":150,"t2":151,"v":3,"k":"g"},{"p":6,"t":155,"t2":156,"v":4,"k":"g"},{"p":6,"t":160,"t2":161,"v":3,"k":"r"},{"p":6,"t":165,"t2":166,"v":4,"k":"g"},{"p":6,"t":170,"t2":171,"v":3,"k":"g"},{"p":6,"t":175,"t2":176,"v":4,"k":"g"},{"p":6,"t":180,"t2":181,"v":3,"k":"g"},{"p":6,"t":186,"t2":187,"v":5,"k":"r"},{"p":6,"t":190,"t2":191,"v":3,"k":"g"},{"p":6,"t":195,"t2":196,"v":2,"k":"r"},{"p":6,"t":212,"t2":213,"v":2,"k":"r"},{"p":6,"t":218,"t2":219,"v":6,"k":"r"},{"p":6,"t":219,"t2":220,"v":10,"k":"r"},{"p":6,"t":220,"t2":221,"v":3,"k":"r"},{"p":6,"t":225,"t2":226,"v":2,"k":"g"},{"p":6,"t":230,"t2":231,"v":3,"k":"r"},{"p":6,"t":233,"t2":234,"v":4,"k":"r"},{"p":6,"t":234,"t2":235,"v":4,"k":"g"},{"p":6,"t":240,"t2":241,"v":3,"k":"r"},{"p":6,"t":243,"t2":244,"v":3,"k":"r"},{"p":6,"t":246,"t2":247,"v":5,"k":"g"},{"p":6,"t":250,"t2":251,"v":2,"k":"r"},{"p":6,"t":254,"t2":255,"v":17,"k":"g"},{"p":6,"t":255,"t2":256,"v":3,"k":"g"}
],
"osc":[
{"t":3,"v":0},{"t":19,"v":0},{"t":21,"v":-4},{"t":23,"v":0},{"t":55,"v":0},{"t":57,"v":-3},{"t":59,"v":0},{"t":90,"v":0},{"t":92,"v":-5},{"t":94,"v":0},{"t":165,"v":0},{"t":166,"v":-3},{"t":168,"v":0},{"t":205,"v":0},{"t":207,"v":-2},{"t":209,"v":0},{"t":217,"v":0},{"t":219,"v":-7},{"t":221,"v":0},{"t":230,"v":0},{"t":232,"v":-2},{"t":234,"v":0},{"t":259,"v":0}
],
"bot":[
{"s":"r","t":3,"v":52},{"s":"r","t":8,"v":52},{"s":"r","t":14.5,"v":47},{"s":"r","t":19.5,"v":50},{"s":"r","t":26.4,"v":50},{"s":"r","t":30.3,"v":50},{"s":"r","t":32.8,"v":41},{"s":"r","t":36.2,"v":31},{"s":"r","t":38.7,"v":29},{"s":"r","t":44.2,"v":32},{"s":"r","t":51.6,"v":33},{"s":"r","t":52.5,"v":35},{"s":"r","t":55,"v":37},{"s":"r","t":57.5,"v":31},{"s":"r","t":60,"v":25},{"s":"r","t":63.9,"v":25},{"s":"r","t":67.4,"v":24},{"s":"r","t":70.8,"v":32},{"s":"r","t":74.8,"v":32},{"s":"r","t":76.3,"v":43},{"s":"r","t":78.7,"v":44},{"s":"r","t":82.2,"v":43},{"s":"r","t":88.6,"v":40},{"s":"r","t":101.9,"v":40},{"s":"r","t":106.9,"v":35},{"s":"r","t":110.8,"v":37},{"s":"r","t":113.3,"v":34},{"s":"r","t":128.1,"v":34},{"s":"r","t":131.6,"v":39},{"s":"r","t":138,"v":41},{"s":"r","t":144.9,"v":42},{"s":"r","t":151.3,"v":43},{"s":"r","t":162.2,"v":41},{"s":"r","t":166.1,"v":43},{"s":"r","t":176,"v":43},{"s":"r","t":178.5,"v":47},{"s":"r","t":185.9,"v":48},{"s":"r","t":187.4,"v":51},{"s":"r","t":195.8,"v":51},{"s":"r","t":198.2,"v":60},{"s":"r","t":202.2,"v":61},{"s":"r","t":209.1,"v":60},{"s":"r","t":226.9,"v":59},{"s":"r","t":235.3,"v":60},{"s":"r","t":241.7,"v":58},{"s":"r","t":246.6,"v":55},{"s":"r","t":255,"v":56},{"s":"r","t":260,"v":57},
{"s":"g","t":3,"v":5},{"s":"g","t":9.6,"v":7},{"s":"g","t":14.5,"v":9},{"s":"g","t":19.5,"v":8},{"s":"g","t":29.3,"v":8},{"s":"g","t":31.8,"v":11},{"s":"g","t":36.2,"v":18},{"s":"g","t":39.2,"v":21},{"s":"g","t":44.2,"v":20},{"s":"g","t":52.5,"v":19},{"s":"g","t":56,"v":21},{"s":"g","t":60,"v":24},{"s":"g","t":65.9,"v":26},{"s":"g","t":68.8,"v":25},{"s":"g","t":74.8,"v":23},{"s":"g","t":77.2,"v":15},{"s":"g","t":82.2,"v":15},{"s":"g","t":93.5,"v":17},{"s":"g","t":105.4,"v":17},{"s":"g","t":108.4,"v":19},{"s":"g","t":128.1,"v":19},{"s":"g","t":131.6,"v":16},{"s":"g","t":139.9,"v":14},{"s":"g","t":151.3,"v":13},{"s":"g","t":162.7,"v":15},{"s":"g","t":176,"v":13},{"s":"g","t":184.9,"v":11},{"s":"g","t":195.8,"v":10},{"s":"g","t":198.2,"v":3},{"s":"g","t":202.2,"v":1},{"s":"g","t":210.6,"v":2},{"s":"g","t":225.4,"v":3},{"s":"g","t":235.3,"v":4},{"s":"g","t":242.7,"v":5},{"s":"g","t":251.6,"v":5},{"s":"g","t":258.5,"v":3}
]
},
"layer":[
{"layer":[
  {"data":{"name":"hl"},"mark":{"type":"rule","strokeWidth":1},"encoding":{"y":{"field":"p","type":"quantitative","scale":{"domain":[-210,325],"nice":false},"axis":null},"color":{"field":"k","type":"nominal","scale":{"domain":["b","k"],"range":["#0000ff","#3c3c3c"]},"legend":null}}},
  {"data":{"name":"prof"},"mark":{"type":"rule","strokeWidth":2},"encoding":{"x":{"field":"a","type":"quantitative","scale":{"domain":[-550,75],"nice":false,"zero":false},"axis":null},"x2":{"field":"b"},"y":{"field":"y","type":"quantitative","scale":{"domain":[-210,325],"nice":false},"axis":null},"color":{"field":"k","type":"nominal","scale":{"domain":["g","lg","r","lr","d","m","w","c","y","b"],"range":["#2f8f2f","#8fbc8f","#ff2020","#f08c8c","#4a4a4a","#8c8c8c","#f4f4f4","#22e6f6","#f6e600","#2020ff"]},"legend":null}}},
  {"data":{"name":"candles"},"mark":{"type":"rule","strokeWidth":1,"color":"#141414"},"encoding":{"x":{"field":"t","type":"quantitative","scale":{"domain":[3.2,311.8],"nice":false,"zero":false},"axis":null},"y":{"field":"lo","type":"quantitative","scale":{"domain":[-210,325],"nice":false},"axis":null},"y2":{"field":"hi"}}},
  {"data":{"name":"candles"},"mark":{"type":"rule","strokeWidth":1.7},"encoding":{"x":{"field":"t","type":"quantitative","scale":{"domain":[3.2,311.8],"nice":false,"zero":false},"axis":null},"y":{"field":"o","type":"quantitative","scale":{"domain":[-210,325],"nice":false},"axis":null},"y2":{"field":"c"},"color":{"condition":{"test":"datum.c >= datum.o","value":"#6a6a6a"},"value":"#000000"}}},
  {"data":{"name":"blue"},"mark":{"type":"line","strokeWidth":2.6,"color":"#0000ff"},"encoding":{"x":{"field":"t","type":"quantitative","scale":{"domain":[3.2,311.8],"nice":false,"zero":false},"axis":null},"y":{"field":"p","type":"quantitative","scale":{"domain":[-210,325],"nice":false},"axis":null},"detail":{"field":"s"},"order":{"field":"i"}}},
  {"data":{"name":"boxes"},"mark":{"type":"rule","strokeWidth":1,"color":"#0000ff"},"encoding":{"x":{"field":"lx","type":"quantitative","scale":{"domain":[3.2,311.8],"nice":false,"zero":false},"axis":null},"x2":{"field":"x0"},"y":{"field":"pm","type":"quantitative","scale":{"domain":[-210,325],"nice":false},"axis":null}}},
  {"data":{"name":"boxes"},"mark":{"type":"rect","strokeWidth":1},"encoding":{"x":{"field":"x0","type":"quantitative","scale":{"domain":[3.2,311.8],"nice":false,"zero":false},"axis":null},"x2":{"field":"x1"},"y":{"field":"p0","type":"quantitative","scale":{"domain":[-210,325],"nice":false},"axis":null},"y2":{"field":"p1"},"fill":{"field":"k","type":"nominal","scale":{"domain":["u","l"],"range":["#5050e0","#f0d8c8"]},"legend":null},"stroke":{"field":"k","type":"nominal","scale":{"domain":["u","l"],"range":["#0000a0","#ff2020"]},"legend":null}}},
  {"data":{"name":"boxes"},"mark":{"type":"text","fontSize":6,"font":"Liberation Sans","fontWeight":"bold","baseline":"middle","align":"center"},"encoding":{"x":{"field":"xm","type":"quantitative","scale":{"domain":[3.2,311.8],"nice":false,"zero":false},"axis":null},"y":{"field":"pm","type":"quantitative","scale":{"domain":[-210,325],"nice":false},"axis":null},"text":{"field":"lab"},"color":{"field":"k","type":"nominal","scale":{"domain":["u","l"],"range":["#e8e8ff","#2020c0"]},"legend":null}}}
 ],
 "resolve":{"scale":{"x":"independent","color":"independent"}}
},
{"layer":[
  {"data":{"name":"sub"},"transform":[{"filter":"datum.p == 1"}],"mark":"rect","encoding":{"x":{"field":"t","type":"quantitative","scale":{"domain":[3.2,311.8],"nice":false,"zero":false},"axis":null},"x2":{"field":"t2"},"y":{"field":"v","type":"quantitative","scale":{"domain":[-188.5,346.5],"nice":false},"axis":null},"y2":{"datum":0},"color":{"field":"k","type":"nominal","scale":{"domain":["r","g","dr"],"range":["#ff0000","#00ee00","#9a2a00"]},"legend":null}}},
  {"data":{"values":[{}]},"mark":{"type":"rule","color":"#5a5a5a","strokeWidth":2},"encoding":{"y":{"datum":20.5,"type":"quantitative","axis":null}}}
]},
{"layer":[
  {"data":{"name":"sub"},"transform":[{"filter":"datum.p == 2"}],"mark":"rect","encoding":{"x":{"field":"t","type":"quantitative","scale":{"domain":[3.2,311.8],"nice":false,"zero":false},"axis":null},"x2":{"field":"t2"},"y":{"field":"v","type":"quantitative","scale":{"domain":[-165.5,369.5],"nice":false},"axis":null},"y2":{"datum":0},"color":{"field":"k","type":"nominal","scale":{"domain":["r","g","dr"],"range":["#ff0000","#00ee00","#9a2a00"]},"legend":null}}},
  {"data":{"values":[{}]},"mark":{"type":"rule","color":"#5a5a5a","strokeWidth":2},"encoding":{"y":{"datum":20.5,"type":"quantitative","axis":null}}}
]},
{"layer":[
  {"data":{"name":"sub"},"transform":[{"filter":"datum.p == 3"}],"mark":"rect","encoding":{"x":{"field":"t","type":"quantitative","scale":{"domain":[3.2,311.8],"nice":false,"zero":false},"axis":null},"x2":{"field":"t2"},"y":{"field":"v","type":"quantitative","scale":{"domain":[-143.5,391.5],"nice":false},"axis":null},"y2":{"datum":0},"color":{"field":"k","type":"nominal","scale":{"domain":["r","g","dr"],"range":["#ff0000","#00ee00","#9a2a00"]},"legend":null}}},
  {"data":{"values":[{}]},"mark":{"type":"rule","color":"#5a5a5a","strokeWidth":2},"encoding":{"y":{"datum":19.5,"type":"quantitative","axis":null}}}
]},
{"layer":[
  {"data":{"name":"sub"},"transform":[{"filter":"datum.p == 4"}],"mark":"rect","encoding":{"x":{"field":"t","type":"quantitative","scale":{"domain":[3.2,311.8],"nice":false,"zero":false},"axis":null},"x2":{"field":"t2"},"y":{"field":"v","type":"quantitative","scale":{"domain":[-122,413],"nice":false},"axis":null},"y2":{"datum":0},"color":{"field":"k","type":"nominal","scale":{"domain":["r","g","dr"],"range":["#ff0000","#00ee00","#9a2a00"]},"legend":null}}},
  {"data":{"values":[{}]},"mark":{"type":"rule","color":"#5a5a5a","strokeWidth":2},"encoding":{"y":{"datum":19,"type":"quantitative","axis":null}}}
]},
{"layer":[
  {"data":{"name":"osc"},"mark":{"type":"line","color":"#7a7a7a","strokeWidth":1},"encoding":{"x":{"field":"t","type":"quantitative","scale":{"domain":[3.2,311.8],"nice":false,"zero":false},"axis":null},"y":{"field":"v","type":"quantitative","scale":{"domain":[-109,426],"nice":false},"axis":null}}},
  {"data":{"name":"sub"},"transform":[{"filter":"datum.p == 5"}],"mark":"rect","encoding":{"x":{"field":"t","type":"quantitative","scale":{"domain":[3.2,311.8],"nice":false,"zero":false},"axis":null},"x2":{"field":"t2"},"y":{"field":"v","type":"quantitative","scale":{"domain":[-109,426],"nice":false},"axis":null},"y2":{"datum":0},"color":{"field":"k","type":"nominal","scale":{"domain":["r","g","dr"],"range":["#ff0000","#00ee00","#9a2a00"]},"legend":null}}},
  {"data":{"values":[{}]},"mark":{"type":"rule","color":"#5a5a5a","strokeWidth":2},"encoding":{"y":{"datum":10,"type":"quantitative","axis":null}}}
]},
{"layer":[
  {"data":{"name":"sub"},"transform":[{"filter":"datum.p == 6"}],"mark":"rect","encoding":{"x":{"field":"t","type":"quantitative","scale":{"domain":[3.2,311.8],"nice":false,"zero":false},"axis":null},"x2":{"field":"t2"},"y":{"field":"v","type":"quantitative","scale":{"domain":[-80.5,454.5],"nice":false},"axis":null},"y2":{"datum":0},"color":{"field":"k","type":"nominal","scale":{"domain":["r","g","dr"],"range":["#ff0000","#00ee00","#9a2a00"]},"legend":null}}},
  {"data":{"values":[{}]},"mark":{"type":"rule","color":"#5a5a5a","strokeWidth":2},"encoding":{"y":{"datum":18.5,"type":"quantitative","axis":null}}}
]},
{"layer":[
  {"data":{"name":"bot"},"mark":{"type":"line","strokeWidth":1.6},"encoding":{"x":{"field":"t","type":"quantitative","scale":{"domain":[3.2,311.8],"nice":false,"zero":false},"axis":{"offset":-14,"values":[0,16,32,48,64,80,96,112,128,144,160,176,192,208,224,240,256],"labelExpr":"['10 Dec 21:00','11 Dec 13:00','12 Dec 05:00','12 Dec 21:00','13 Dec 13:00','16 Dec 05:00','16 Dec 21:00','17 Dec 13:00','18 Dec 05:00','18 Dec 21:00','19 Dec 13:00','20 Dec 05:00','20 Dec 21:00','23 Dec 13:00','24 Dec 05:00','26 Dec 08:00','26 Dec 16:00'][round(datum.value/16)]","labelAlign":"left","labelFont":"Liberation Sans","labelFontSize":4.8,"labelColor":"#000000","labelPadding":0,"labelDx":1,"labelOverlap":false,"labelFlush":false,"labelBound":false,"tickColor":"#000000","tickSize":5,"tickWidth":1,"domainColor":"#404040","domainWidth":1,"grid":false,"title":null}},"y":{"field":"v","type":"quantitative","scale":{"domain":[-14,521],"nice":false},"axis":null},"color":{"field":"s","type":"nominal","scale":{"domain":["r","g"],"range":["#ff0000","#008000"]},"legend":null}}},
  {"data":{"values":[{}]},"mark":{"type":"rule","color":"#5a5a5a","strokeWidth":2},"encoding":{"y":{"datum":64,"type":"quantitative","axis":null}}}
]}
],
"resolve":{"scale":{"x":"independent","y":"independent","color":"independent"}}
}
